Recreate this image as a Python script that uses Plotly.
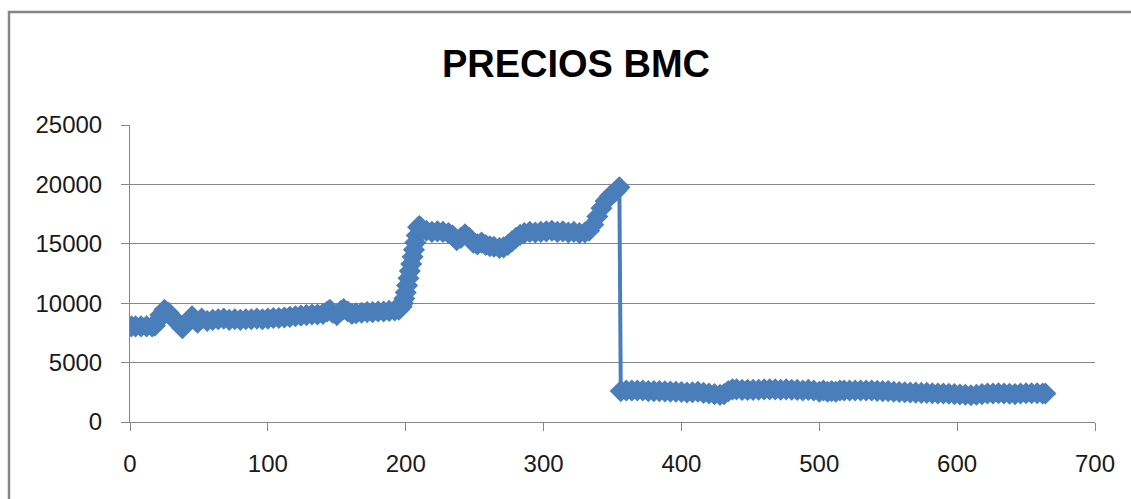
import plotly.graph_objects as go

# Daily index and BMC price readings
days = [
    1, 4, 8, 12, 16, 18, 20, 22, 25, 28, 31, 34, 38, 41, 45, 49, 52, 56, 60, 64,
    68, 72, 76, 80, 84, 88, 92, 96, 100, 104, 108, 112, 116, 120, 124, 128, 132,
    136, 140, 143, 145, 147, 150, 153, 155, 158, 161, 164, 168, 172, 176, 180,
    184, 188, 192, 195, 197, 198, 199, 200, 201, 202, 203, 204, 205, 206, 207,
    208, 209, 210, 212, 215, 219, 223, 227, 231, 234, 237, 240, 243, 246, 249,
    252, 255, 258, 261, 264, 268, 271, 274, 277, 280, 283, 286, 290, 294, 298,
    302, 306, 310, 314, 318, 322, 326, 330, 333, 336, 339, 342, 345, 348, 351,
    353, 355, 356, 360, 364, 368, 372, 376, 380, 384, 388, 392, 396, 400, 404,
    408, 412, 416, 420, 424, 428, 431, 434, 437, 440, 444, 448, 452, 456, 460,
    464, 468, 472, 476, 480, 484, 488, 492, 496, 500, 503, 506, 509, 512, 515,
    518, 522, 526, 530, 534, 538, 542, 546, 550, 554, 558, 562, 566, 570, 574,
    578, 582, 586, 590, 594, 598, 602, 606, 610, 614, 618, 622, 626, 630, 634,
    638, 642, 646, 650, 654, 658, 662, 664,
]
prices = [
    8050, 8050, 8050, 8050, 8050, 8100, 8500, 9000, 9450, 9200, 8800, 8400, 7900,
    8300, 8900, 8350, 8700, 8500, 8600, 8650, 8700, 8600, 8650, 8600, 8650, 8650,
    8700, 8650, 8700, 8750, 8750, 8800, 8850, 8900, 8950, 9000, 9050, 9050, 9100,
    9300, 9450, 9200, 9000, 9350, 9500, 9300, 9100, 9150, 9200, 9250, 9250, 9300,
    9300, 9350, 9400, 9450, 9700, 10000, 10400, 10900, 11500, 12100, 12700, 13300,
    13900, 14500, 15100, 15700, 16400, 16500, 16200, 16100, 16000, 16050, 16000,
    15900, 15700, 15300, 15500, 15800, 15500, 15100, 14950, 15100, 14900, 14800,
    14750, 14650, 14700, 14900, 15200, 15500, 15750, 15900, 16000, 15950, 16000,
    16050, 16100, 16000, 16050, 15950, 16000, 15900, 15950, 16100, 16600, 17300,
    18000, 18600, 19000, 19300, 19500, 19750, 2600, 2650, 2650, 2650, 2650, 2600,
    2600, 2600, 2580, 2560, 2550, 2520, 2480, 2500, 2550, 2450, 2400, 2350, 2280,
    2350, 2600, 2750, 2750, 2700, 2700, 2700, 2720, 2750, 2750, 2750, 2720, 2750,
    2720, 2700, 2650, 2700, 2650, 2550, 2650, 2550, 2600, 2550, 2650, 2650, 2650,
    2650, 2650, 2650, 2650, 2620, 2600, 2600, 2550, 2530, 2500, 2480, 2470, 2450,
    2450, 2420, 2400, 2400, 2380, 2350, 2320, 2300, 2250, 2300, 2350, 2400, 2400,
    2420, 2400, 2380, 2350, 2400, 2420, 2420, 2420, 2400, 2400,
]

x_ticks = [0, 100, 200, 300, 400, 500, 600, 700]
y_ticks = [0, 5000, 10000, 15000, 20000, 25000]

BLUE = "#4a7ebb"
GRAY = "#868686"
FONT = "Liberation Sans"

fig = go.Figure()
fig.add_trace(go.Scatter(
    x=days,
    y=prices,
    mode="lines+markers",
    line=dict(color=BLUE, width=4),
    marker=dict(symbol="diamond", size=17, color=BLUE, line=dict(width=0)),
    showlegend=False,
    hoverinfo="x+y",
))

W, H = 1131, 499
L, R, T, B = 130, 36, 125, 77
pw, ph = W - L - R, H - T - B

def px_x(p):
    return (p - L) / pw

def px_y(p):
    return (H - B - p) / ph

# Chart-area frame
fig.add_shape(
    type="rect", xref="paper", yref="paper",
    x0=px_x(9), x1=px_x(W + 20), y0=px_y(H + 20), y1=px_y(12),
    line=dict(color=GRAY, width=2.5), fillcolor="rgba(0,0,0,0)", layer="below",
)

fig.update_layout(
    width=W, height=H,
    margin=dict(l=L, r=R, t=T, b=B, pad=0),
    paper_bgcolor="white",
    plot_bgcolor="white",
    title=dict(
        text="<b>PRECIOS BMC</b>",
        x=576 / W, xanchor="center",
        y=1 - 64 / H, yanchor="middle",
        font=dict(family=FONT, size=38, color="#000000"),
    ),
    xaxis=dict(
        range=[0, 700],
        tickvals=x_ticks,
        ticktext=[str(v) for v in x_ticks],
        showgrid=False,
        zeroline=False,
        showline=True, linecolor=GRAY, linewidth=1,
        ticks="outside", ticklen=8, tickcolor=GRAY, tickwidth=1,
        ticklabelstandoff=12,
        tickfont=dict(family=FONT, size=24, color="#1a1a1a"),
    ),
    yaxis=dict(
        range=[0, 25000],
        tickvals=y_ticks,
        ticktext=[str(v) for v in y_ticks],
        showgrid=True, gridcolor=GRAY, gridwidth=1,
        zeroline=False,
        showline=True, linecolor=GRAY, linewidth=1,
        ticks="outside", ticklen=8, tickcolor=GRAY, tickwidth=1,
        ticklabelstandoff=14,
        tickfont=dict(family=FONT, size=24, color="#1a1a1a"),
    ),
)

fig.write_html("out.html")
